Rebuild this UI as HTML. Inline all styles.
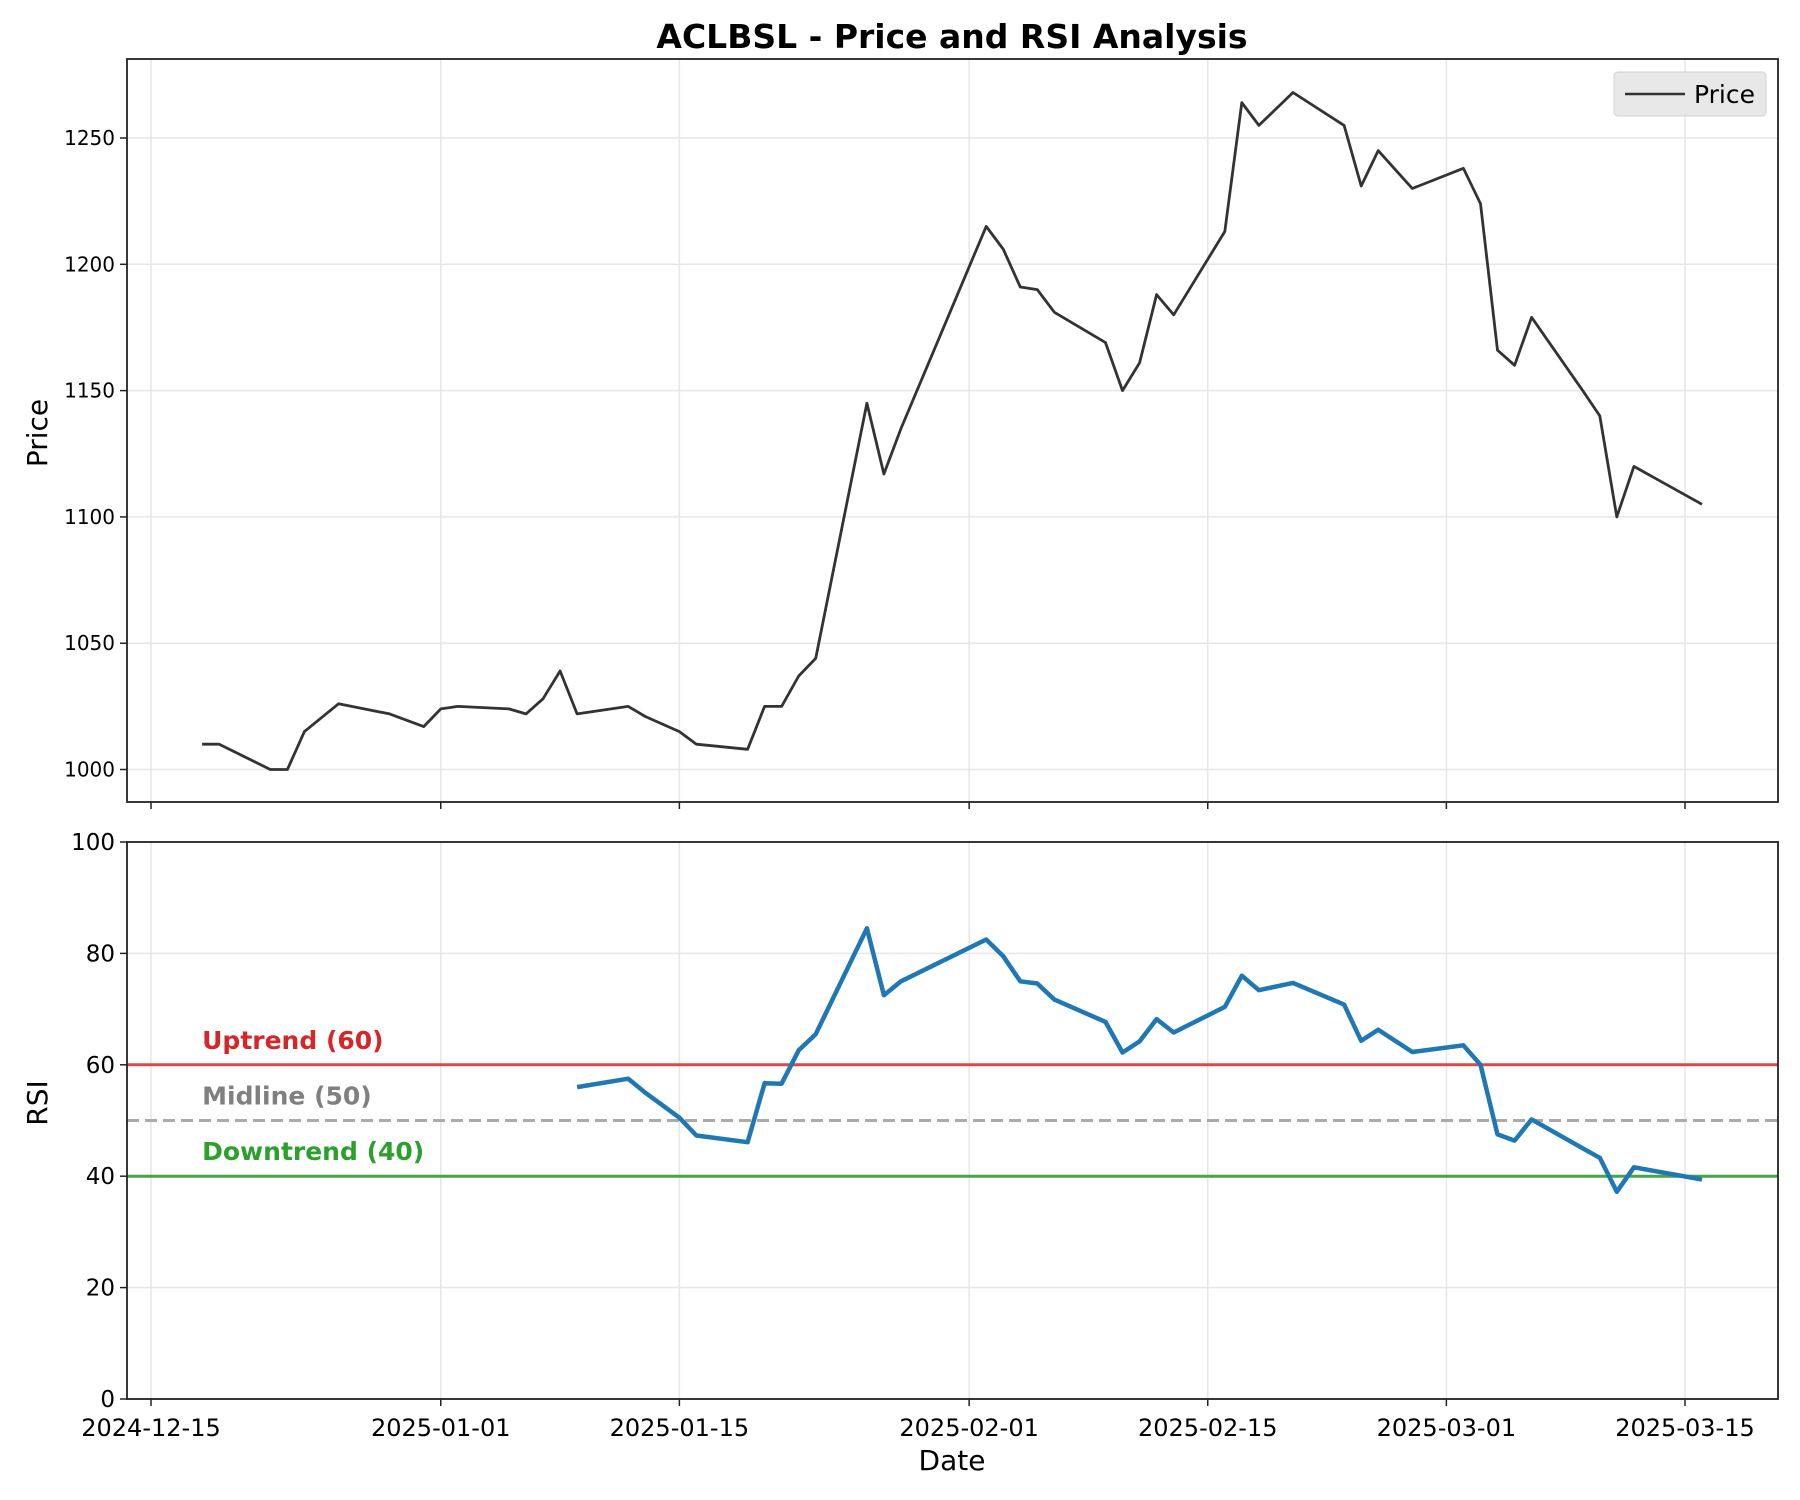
<!DOCTYPE html>
<html><head><meta charset="utf-8"><style>
html,body{margin:0;padding:0;background:#fff;}
svg{display:block;font-family:"DejaVu Sans","Liberation Sans",sans-serif;}
</style></head><body>
<svg id="chart" width="1800" height="1500" viewBox="0 0 1800 1500" xmlns="http://www.w3.org/2000/svg">
<rect width="1800" height="1500" fill="#fff"/>
<text x="952" y="48" text-anchor="middle" font-size="33" font-weight="bold">ACLBSL - Price and RSI Analysis</text>
<g id="topAx"></g><g id="botAx"></g>
</svg>
<script>
const dates=["2024-12-18","2024-12-19","2024-12-22","2024-12-23","2024-12-24","2024-12-26","2024-12-29","2024-12-31","2025-01-01","2025-01-02","2025-01-05","2025-01-06","2025-01-07","2025-01-08","2025-01-09","2025-01-12","2025-01-13","2025-01-15","2025-01-16","2025-01-19","2025-01-20","2025-01-21","2025-01-22","2025-01-23","2025-01-26","2025-01-27","2025-01-28","2025-02-02","2025-02-03","2025-02-04","2025-02-05","2025-02-06","2025-02-09","2025-02-10","2025-02-11","2025-02-12","2025-02-13","2025-02-16","2025-02-17","2025-02-18","2025-02-20","2025-02-23","2025-02-24","2025-02-25","2025-02-27","2025-03-02","2025-03-03","2025-03-04","2025-03-05","2025-03-06","2025-03-09","2025-03-10","2025-03-11","2025-03-12","2025-03-16"];
const prices=[1010,1010,1000,1000,1015,1026,1022,1017,1024,1025,1024,1022,1028,1039,1022,1025,1021,1015,1010,1008,1025,1025,1037,1044,1145,1117,1135,1215,1206,1191,1190,1181,1169,1150,1161,1188,1180,1213,1264,1255,1268,1255,1231,1245,1230,1238,1224,1166,1160,1179,1150,1140,1100,1120,1105];
const rsi=[null,null,null,null,null,null,null,null,null,null,null,null,null,null,56,57.5,55,50.5,47.3,46.1,56.7,56.6,62.6,65.5,84.5,72.5,75,82.5,79.5,75,74.6,71.7,67.7,62.2,64.2,68.2,65.8,70.4,76,73.4,74.7,70.8,64.3,66.3,62.3,63.5,60,47.5,46.4,50.2,45,43.3,37.2,41.6,39.4];
const xTickLabels=["2024-12-15","2025-01-01","2025-01-15","2025-02-01","2025-02-15","2025-03-01","2025-03-15"];
const priceTicks=[1000,1050,1100,1150,1200,1250];
const rsiTicks=[0,20,40,60,80,100];
const levels=[60,50,40];
const levelLabels=["Uptrend (60)","Midline (50)","Downtrend (40)"];

const NS="http://www.w3.org/2000/svg";
const L=127,R=1778,T1=59,B1=802,T2=842,B2=1399;
const d0=Date.UTC(2024,11,15);
function day(s){const p=s.split("-");return (Date.UTC(+p[0],p[1]-1,+p[2])-d0)/86400000;}
function X(s){return 151+day(s)*(1685-151)/90;}
function YP(v){return 769.5-(v-1000)*2.526;}
function YR(v){return B2-v*(B2-T2)/100;}
function el(tag,attrs,parent,text){const e=document.createElementNS(NS,tag);for(const k in attrs)e.setAttribute(k,attrs[k]);if(text!==undefined)e.textContent=text;parent.appendChild(e);return e;}
const gTop=document.getElementById("topAx"),gBot=document.getElementById("botAx");

xTickLabels.forEach(t=>{
  const x=X(t);
  let g=el("line",{x1:x,x2:x,y1:T1,y2:B1,stroke:"#e6e6e6","stroke-width":1.5},gTop);
  
  
  g=el("line",{x1:x,x2:x,y1:T2,y2:B2,stroke:"#e6e6e6","stroke-width":1.5},gBot);
  
  
  let tk=el("line",{x1:x,x2:x,y1:B1,y2:B1+7,stroke:"#222","stroke-width":1.5},gTop);
  
  
  tk=el("line",{x1:x,x2:x,y1:B2,y2:B2+7,stroke:"#222","stroke-width":1.5},gBot);
  
  
  const lb=el("text",{x:x,y:1436,"text-anchor":"middle","font-size":24},gBot,t);
  
  
});
priceTicks.forEach(v=>{
  const y=YP(v);
  const g=el("line",{x1:L,x2:R,y1:y,y2:y,stroke:"#e6e6e6","stroke-width":1.5},gTop);
  
  
  const tk=el("line",{x1:L-7,x2:L,y1:y,y2:y,stroke:"#222","stroke-width":1.5},gTop);
  
  
  const lb=el("text",{x:L-12,y:y+7,"text-anchor":"end","font-size":20},gTop,v);
  
  
});
rsiTicks.forEach(v=>{
  const y=YR(v);
  const g=el("line",{x1:L,x2:R,y1:y,y2:y,stroke:"#e6e6e6","stroke-width":1.5},gBot);
  
  
  const tk=el("line",{x1:L-7,x2:L,y1:y,y2:y,stroke:"#222","stroke-width":1.5},gBot);
  
  
  const lb=el("text",{x:L-12,y:y+8,"text-anchor":"end","font-size":23},gBot,v);
  
  
});

let pts=dates.map((d,i)=>X(d).toFixed(1)+","+YP(prices[i]).toFixed(1)).join(" ");
const pl=el("polyline",{points:pts,fill:"none",stroke:"#333","stroke-width":2.8,"stroke-linejoin":"round"},gTop);



const lvColors=["#d62728","#808080","#2ca02c"],lvLine=["#e0474a","#aaaaaa","#44a644"];
levels.forEach((v,i)=>{
  const y=YR(v);
  const ln=el("line",{x1:L,x2:R,y1:y,y2:y,stroke:lvLine[i],"stroke-width":3,"stroke-dasharray":i==1?"12,6":"none"},gBot);
  
  
  const tx=el("text",{x:X("2024-12-18"),y:y-16,"font-size":25,"font-weight":"bold",fill:lvColors[i]},gBot,levelLabels[i]);
  
  
});
pts=dates.map((d,i)=>rsi[i]==null?null:X(d).toFixed(1)+","+YR(rsi[i]).toFixed(1)).filter(p=>p).join(" ");
const rl=el("polyline",{points:pts,fill:"none",stroke:"#1f77b4","stroke-width":4.5,"stroke-linejoin":"round"},gBot);



let f=el("rect",{x:L,y:T1,width:R-L,height:B1-T1,fill:"none",stroke:"#222","stroke-width":1.8},gTop);


f=el("rect",{x:L,y:T2,width:R-L,height:B2-T2,fill:"none",stroke:"#222","stroke-width":1.8},gBot);



let a=el("text",{x:0,y:0,"text-anchor":"middle","font-size":28,transform:"translate(47,433) rotate(-90)"},gTop,"Price");


a=el("text",{x:0,y:0,"text-anchor":"middle","font-size":28,transform:"translate(47,1103) rotate(-90)"},gBot,"RSI");


a=el("text",{x:952,y:1470,"text-anchor":"middle","font-size":28},gBot,"Date");



const lg=el("g",{},gTop);


el("rect",{x:1614,y:72,width:152,height:44,rx:4,fill:"#e8e8e8",stroke:"#d0d0d0"},lg);
const le=el("line",{x1:1625,x2:1685,y1:94,y2:94,stroke:"#333","stroke-width":2.5},lg);


el("text",{x:1694,y:103,"font-size":25},lg,"Price");
</script>
</body></html>
